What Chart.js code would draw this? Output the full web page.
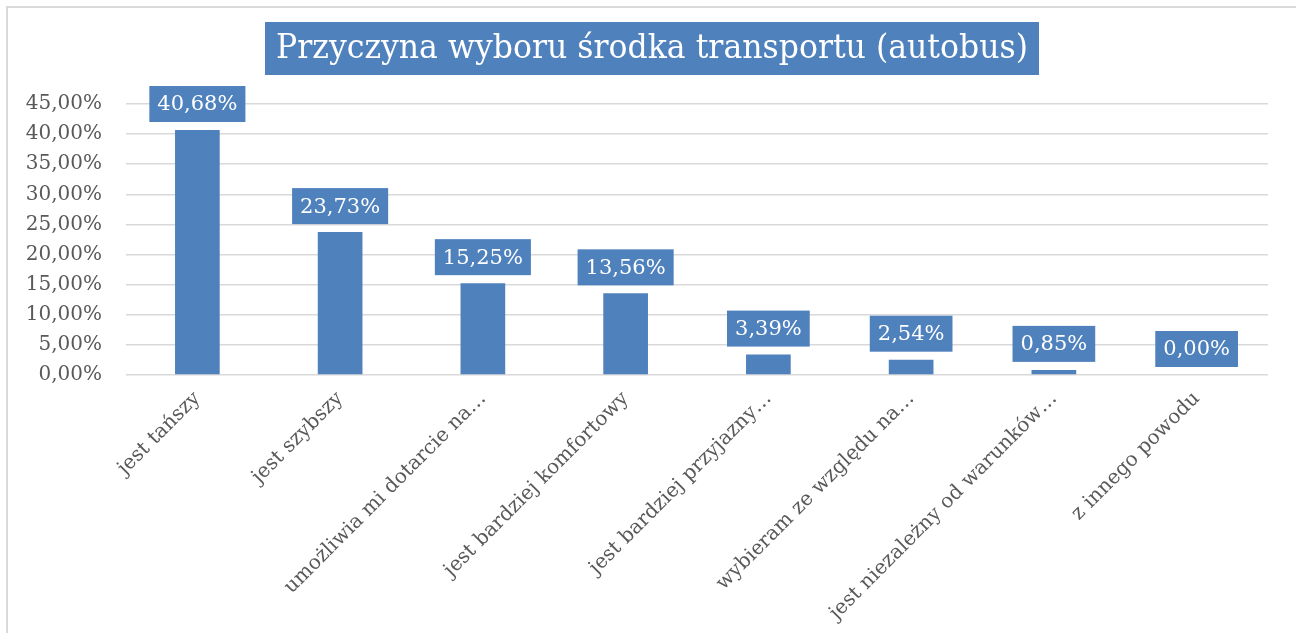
<!DOCTYPE html>
<html>
<head>
<meta charset="utf-8">
<script src="https://cdn.jsdelivr.net/npm/chart.js@4"></script>
<style>
  body { margin: 0; background: #fff; }
  #wrap { width: 1296px; height: 633px; position: relative; }
</style>
</head>
<body>
<div id="wrap"><canvas id="myChart" width="1296" height="633"></canvas></div>
<script>
var chartTitle = 'Przyczyna wyboru środka transportu (autobus)';
var categories = [
  'jest tańszy',
  'jest szybszy',
  'umożliwia mi dotarcie na…',
  'jest bardziej komfortowy',
  'jest bardziej przyjazny…',
  'wybieram ze względu na…',
  'jest niezależny od warunków…',
  'z innego powodu'
];
var values = [40.68, 23.73, 15.25, 13.56, 3.39, 2.54, 0.85, 0.00];
var yMax = 45;
var yStep = 5;

var blue = '#4F81BD';
var serif = "'DejaVu Serif', 'Liberation Serif', serif";

function pct(v) {
  return v.toFixed(2).replace('.', ',') + '%';
}

// light frame round the chart (only top and left edges show)
var framePlugin = {
  id: 'frame',
  beforeDraw: function(chart) {
    var c = chart.ctx;
    c.save();
    c.fillStyle = '#d9d9d9';
    c.fillRect(6, 6, chart.width - 6, 2);
    c.fillRect(6, 6, 2, chart.height - 6);
    c.restore();
  }
};

// title in a blue box, squeezed a little like the narrow original font
var titlePlugin = {
  id: 'boxTitle',
  afterDraw: function(chart) {
    var c = chart.ctx;
    c.save();
    c.font = '34px ' + serif;
    var w = c.measureText(chartTitle).width;
    var sx = 752 / w;
    var boxW = 752 + 22;
    var cx = 652;
    c.fillStyle = blue;
    c.fillRect(cx - boxW / 2, 22, boxW, 53);
    c.translate(cx, 49);
    c.scale(sx, 1);
    c.fillStyle = '#fff';
    c.textAlign = 'center';
    c.textBaseline = 'middle';
    c.fillText(chartTitle, 0, 0);
    c.restore();
  }
};

// value labels in blue boxes above the bars
var valueBoxPlugin = {
  id: 'valueBoxes',
  afterDatasetsDraw: function(chart) {
    var c = chart.ctx;
    var meta = chart.getDatasetMeta(0);
    c.save();
    c.font = '21px ' + serif;
    c.textAlign = 'center';
    c.textBaseline = 'middle';
    meta.data.forEach(function(bar, i) {
      var txt = pct(values[i]);
      var w = c.measureText(txt).width + 16;
      var h = 36;
      var bottom = bar.y - 8;
      c.fillStyle = blue;
      c.fillRect(bar.x - w / 2, bottom - h, w, h);
      c.fillStyle = '#fff';
      c.fillText(txt, bar.x, bottom - h / 2 + 1);
    });
    c.restore();
  }
};

var ctx = document.getElementById('myChart').getContext('2d');
var myChart = new Chart(ctx, {
  type: 'bar',
  data: {
    labels: categories,
    datasets: [{
      data: values,
      backgroundColor: blue,
      borderWidth: 0,
      categoryPercentage: 1,
      barPercentage: 0.313
    }]
  },
  options: {
    responsive: false,
    animation: false,
    layout: {
      padding: { top: 104, left: 0, right: 28, bottom: 0 }
    },
    plugins: {
      legend: { display: false },
      title: { display: false },
      tooltip: { enabled: false }
    },
    scales: {
      x: {
        grid: { display: false },
        border: { display: false },
        afterFit: function(scale) { scale.height = 258; },
        ticks: {
          color: '#595959',
          font: { family: serif, size: 20 },
          maxRotation: 45,
          minRotation: 45,
          autoSkip: false,
          padding: 4
        }
      },
      y: {
        min: 0,
        max: yMax,
        grid: { color: '#d9d9d9', lineWidth: 1.5, drawTicks: false },
        border: { display: false },
        afterFit: function(scale) { scale.width = 126; },
        ticks: {
          stepSize: yStep,
          color: '#595959',
          font: { family: serif, size: 20 },
          padding: 24,
          callback: function(v) { return pct(v); }
        }
      }
    }
  },
  plugins: [framePlugin, titlePlugin, valueBoxPlugin]
});
</script>
</body>
</html>
